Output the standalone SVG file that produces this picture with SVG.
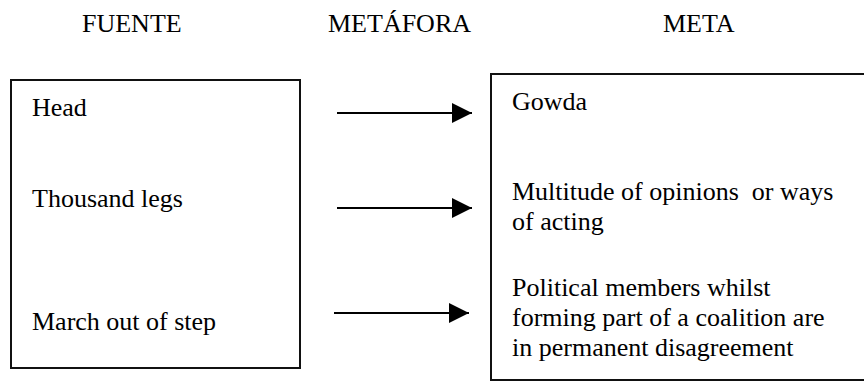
<svg xmlns="http://www.w3.org/2000/svg" width="864" height="381" viewBox="0 0 864 381">
  <style>
    text { font-family: "Liberation Serif", "Times New Roman", serif; font-size: 26px; fill: #000; white-space: pre; }
    .box { fill: #fff; stroke: #111; stroke-width: 2; }
    .conn { stroke: #000; stroke-width: 2; fill: none; }
  </style>
  <defs>
    <marker id="arrowhead" viewBox="0 0 20 20" refX="20" refY="10" markerWidth="20" markerHeight="20" markerUnits="userSpaceOnUse" orient="auto">
      <path d="M0,0 L20,10 L0,20 Z" fill="#000"/>
    </marker>
  </defs>
  <rect width="864" height="381" fill="#fff"/>

  <!-- column headings -->
  <g id="headings">
    <text x="82" y="32">FUENTE</text>
    <text x="328" y="32">METÁFORA</text>
    <text x="663" y="32">META</text>
  </g>

  <!-- source domain -->
  <g id="source">
    <rect class="box" x="11" y="80" width="289" height="288"/>
    <text x="32" y="116">Head</text>
    <text x="32" y="207">Thousand legs</text>
    <text x="32" y="330">March out of step</text>
  </g>

  <!-- target domain -->
  <g id="target">
    <rect class="box" x="491" y="74" width="420" height="306"/>
    <text x="512" y="110">Gowda</text>
    <text x="512" y="200" xml:space="preserve">Multitude of opinions  or ways</text>
    <text x="512" y="230">of acting</text>
    <text x="512" y="296">Political members whilst</text>
    <text x="512" y="326">forming part of a coalition are</text>
    <text x="512" y="356">in permanent disagreement</text>
  </g>

  <!-- mappings -->
  <g id="connectors">
    <line class="conn" x1="337" y1="113" x2="472" y2="113" marker-end="url(#arrowhead)"/>
    <line class="conn" x1="337" y1="208" x2="472" y2="208" marker-end="url(#arrowhead)"/>
    <line class="conn" x1="334" y1="313" x2="469" y2="313" marker-end="url(#arrowhead)"/>
  </g>
</svg>
